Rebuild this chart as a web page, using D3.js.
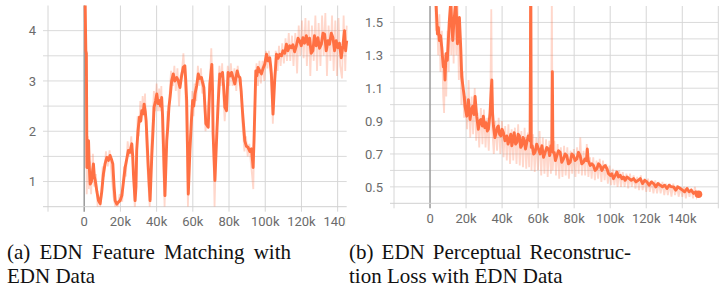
<!DOCTYPE html>
<html>
<head>
<meta charset="utf-8">
<script src="https://cdn.jsdelivr.net/npm/d3@7"></script>
<style>
  body { margin: 0; background: #fff; }
  svg { display: block; }
  .tick-label { font-family: Roboto, "Noto Sans", sans-serif; font-size: 13px; fill: #6b6b6b; }
  .caption { font-family: "Liberation Serif", "DejaVu Serif", serif; font-size: 21px; fill: #111; }
</style>
</head>
<body>
<svg id="chart" width="726" height="292"></svg>
<script>
// steps are in thousands
const xTicks = [0, 20, 40, 60, 80, 100, 120, 140];
const xTickLabels = ["0", "20k", "40k", "60k", "80k", "100k", "120k", "140k"];
const featTicks = [1, 2, 3, 4];
const featGrid = [1, 1.5, 2, 2.5, 3, 3.5, 4];
const percTicks = [0.5, 0.7, 0.9, 1.1, 1.3, 1.5];
const percGrid = [0.5, 0.6, 0.7, 0.8, 0.9, 1.0, 1.1, 1.2, 1.3, 1.4, 1.5];

// (a) feature matching loss, [step, value]
const featSmooth = [[0,6.0],[0.5,4.6],[0.9,3.6],[1.2,3.55],[1.5,1.28],[1.9,1.5],[2.4,1.81],[2.8,1.3],[3.3,0.95],[4.0,1.0],
  [4.6,1.2],[5.1,1.35],[5.6,1.1],[6.1,1.02],[7.0,0.8],[7.9,0.62],[8.8,0.56],[9.7,0.8],[10.6,1.15],[11.5,1.35],
  [12.5,1.48],[13.4,1.42],[14.3,1.52],[15.0,1.45],[15.8,1.35],[16.5,0.9],[17.1,0.62],[18.0,0.55],[18.9,0.59],[19.8,0.62],
  [20.8,0.72],[21.7,1.0],[22.6,1.28],[23.5,1.45],[24.4,1.62],[25.3,1.58],[26.3,1.75],[26.8,1.5],[27.2,1.15],[28.1,0.62],
  [28.6,0.9],[29.0,1.62],[29.7,2.0],[30.5,2.28],[31.2,2.2],[31.8,2.41],[32.5,2.35],[33.1,2.54],[33.7,2.4],[34.2,2.21],
  [35.4,1.28],[36.4,0.62],[37.3,1.48],[38.0,2.0],[38.6,2.48],[39.4,2.6],[40.1,2.74],[40.8,2.55],[41.5,2.61],[42.2,2.5],
  [42.8,2.67],[43.3,2.3],[43.7,1.81],[44.6,0.72],[45.6,1.81],[46.2,2.1],[46.8,2.48],[47.5,2.7],[48.3,3.0],[49.2,3.14],
  [50.0,3.0],[51.1,3.07],[52.0,3.0],[52.9,2.87],[53.8,3.1],[54.7,3.27],[55.6,3.3],[56.1,3.0],[56.6,2.61],[57.5,0.75],
  [58.4,1.62],[59.2,2.2],[59.9,2.61],[60.5,2.5],[61.2,2.74],[62.1,2.9],[63.0,3.14],[63.9,3.05],[64.8,3.07],[65.5,2.95],
  [66.1,2.87],[67.2,2.15],[68.5,2.08],[69.4,2.94],[70.5,3.33],[70.9,2.8],[71.2,1.95],[72.2,1.02],[73.4,2.08],[74.2,2.7],
  [74.9,3.14],[75.7,3.1],[76.4,3.17],[77.0,2.9],[77.7,2.48],[78.6,2.41],[79.5,3.17],[80.5,3.1],[81.4,3.17],[82.3,3.05],
  [83.2,2.94],[84.5,3.2],[85.2,3.1],[86.0,3.07],[86.7,2.8],[87.4,2.41],[88.7,1.81],[89.6,1.7],[90.5,1.68],[91.5,1.6],
  [92.4,1.65],[93.3,1.28],[93.8,1.81],[94.8,3.2],[95.4,3.1],[96.0,3.27],[97.0,3.2],[97.9,3.14],[98.8,3.25],[99.7,3.33],
  [100.7,3.53],[101.5,3.4],[102.5,3.46],[103.0,3.3],[103.4,3.14],[104.3,2.34],[105.2,3.0],[106.2,3.53],[107.1,3.45],[108.0,3.53],
  [109.0,3.5],[109.8,3.6],[110.8,3.55],[111.7,3.73],[112.5,3.6],[113.5,3.7],[114.4,3.66],[115.3,3.72],[116.2,3.58],[117.2,3.7],
  [118.1,3.85],[119.0,3.8],[119.9,3.7],[120.8,3.86],[121.7,3.75],[122.7,3.9],[123.6,3.73],[124.5,3.85],[125.4,3.55],[126.3,3.6],
  [127.2,3.9],[128.2,3.7],[129.1,3.86],[130.0,3.65],[131.0,3.73],[131.9,3.95],[132.8,3.93],[133.7,3.6],[134.6,3.8],[135.5,3.73],
  [136.5,3.95],[137.4,3.86],[138.3,3.6],[139.2,3.8],[140.1,3.66],[141.0,3.75],[142.0,3.46],[142.9,3.7],[143.8,4.0],[144.4,3.6],[145.0,3.8]];

const featRaw = [[0,6.0],[0.6,4.5],[1.0,3.0],[1.4,0.75],[2.0,1.9],[2.6,0.85],[3.2,1.4],[3.8,0.75],[4.8,1.55],[5.5,0.9],
  [6.5,1.15],[7.4,0.5],[8.6,0.45],[9.5,0.7],[10.2,1.3],[11.0,1.1],[12.0,1.6],[13.0,1.3],[14.0,1.62],[15.0,1.2],
  [16.2,0.7],[17.4,0.45],[18.5,0.5],[19.6,0.75],[21.0,0.6],[22.0,1.3],[23.0,1.1],[24.0,1.8],[25.0,1.5],[26.0,1.9],
  [27.0,1.2],[28.0,0.45],[28.8,1.2],[29.5,2.3],[30.2,1.9],[31.0,2.6],[31.6,2.2],[32.3,2.7],[33.0,2.3],[33.6,2.75],
  [34.5,1.6],[35.5,0.9],[36.2,0.5],[37.0,1.7],[37.8,2.2],[38.5,2.8],[39.2,2.4],[40.0,2.95],[40.7,2.4],[41.4,2.85],
  [42.0,2.4],[42.6,2.9],[43.4,1.6],[44.4,0.5],[45.3,1.6],[46.0,2.4],[46.6,2.2],[47.4,2.9],[48.0,3.2],[49.0,2.9],
  [49.8,3.3],[50.6,2.8],[51.5,3.25],[52.4,2.5],[53.2,3.1],[54.0,3.2],[54.8,3.55],[55.5,3.1],[56.4,2.3],[57.3,0.5],
  [58.2,1.9],[59.0,2.0],[59.7,2.8],[60.4,2.3],[61.0,2.95],[61.9,2.6],[62.8,3.3],[63.6,2.9],[64.5,3.25],[65.2,2.75],
  [66.0,3.0],[67.0,2.0],[68.0,2.3],[69.0,2.7],[70.2,3.65],[70.8,3.0],[71.3,1.8],[72.0,0.5],[73.0,1.8],[74.0,2.9],
  [74.7,3.3],[75.5,2.9],[76.2,3.35],[77.0,2.6],[77.6,2.2],[78.4,2.6],[79.3,3.3],[80.2,2.9],[81.0,3.35],[82.0,2.9],
  [83.0,3.25],[84.0,2.8],[84.8,3.3],[85.8,2.95],[86.6,3.0],[87.3,2.2],[88.5,1.6],[89.4,1.9],[90.3,1.5],[91.2,1.75],
  [92.0,1.4],[92.8,1.1],[93.4,0.85],[94.0,2.0],[94.6,3.0],[95.2,3.35],[96.0,2.9],[96.8,3.4],[97.6,2.95],[98.5,3.4],
  [99.5,3.0],[100.4,3.6],[101.2,3.25],[102.0,3.6],[102.8,3.2],[103.5,2.9],[104.2,2.15],[105.0,2.9],[105.8,3.6],[106.8,3.2],
  [107.6,3.7],[108.5,3.3],[109.4,3.75],[110.3,3.35],[111.2,3.85],[112.0,3.4],[113.0,3.95],[113.8,3.4],[114.8,3.9],[115.6,3.3],
  [116.6,3.95],[117.6,3.15],[118.5,4.1],[119.4,3.5],[120.3,4.2],[121.2,3.45],[122.2,4.25],[123.0,3.3],[124.0,4.2],[124.9,3.1],
  [125.8,4.1],[126.8,3.4],[127.7,4.3],[128.6,3.2],[129.5,4.15],[130.5,3.3],[131.4,4.3],[132.3,3.5],[133.2,4.35],[134.1,3.1],
  [135.0,4.1],[136.0,3.4],[136.9,4.3],[137.8,3.2],[138.7,4.2],[139.6,3.1],[140.5,4.25],[141.4,3.3],[142.4,3.05],[143.3,4.3],[144.2,3.2],[145.0,4.1]];

// (b) perceptual reconstruction loss, [step, value]
const percSmooth = [[0,3.0],[2.5,2.0],[3.3,1.62],[4.1,1.43],[4.6,1.47],[5.2,1.39],[5.8,1.42],[6.5,1.35],[7.0,1.28],[7.4,1.23],
  [7.9,1.25],[8.3,1.15],[8.9,1.31],[9.6,1.27],[10.2,1.4],[10.7,1.51],[11.5,1.62],[12.0,1.5],[12.6,1.39],[13.3,1.51],
  [13.9,1.58],[14.4,1.63],[15.2,1.37],[15.8,1.45],[16.3,1.53],[17.1,1.33],[17.6,1.17],[18.5,1.09],[19.0,1.05],[19.4,0.99],
  [20.4,0.93],[21.3,1.03],[22.2,0.91],[23.0,0.97],[23.7,0.99],[24.4,0.94],[25.0,1.05],[25.9,0.93],[26.8,0.85],[27.5,0.9],
  [28.2,0.91],[29.0,0.87],[29.6,0.93],[30.4,0.86],[31.1,0.89],[31.8,0.84],[32.4,0.85],[33.3,0.95],[34.0,1.1],[34.3,1.15],
  [34.7,0.95],[35.2,0.87],[36.0,0.8],[36.7,0.83],[37.3,0.86],[37.9,0.87],[38.6,0.82],[39.3,0.81],[40.0,0.85],[40.7,0.83],
  [41.6,0.78],[42.6,0.81],[43.3,0.76],[44.1,0.79],[44.8,0.82],[45.4,0.75],[46.0,0.78],[46.7,0.83],[47.5,0.76],[48.2,0.77],
  [48.9,0.82],[49.6,0.81],[50.3,0.74],[50.9,0.75],[51.6,0.8],[52.2,0.79],[53.0,0.73],[53.7,0.77],[54.5,0.81],[55.2,0.79],
  [55.6,0.78],[55.9,1.9],[56.2,0.74],[56.7,0.75],[57.5,0.7],[58.3,0.71],[59.2,0.76],[60.2,0.73],[61.1,0.7],[62.1,0.75],
  [63.0,0.68],[63.9,0.71],[64.8,0.74],[65.7,0.73],[66.4,0.69],[67.1,0.75],[67.6,0.72],[67.9,1.2],[68.2,0.71],[68.9,0.71],
  [69.6,0.66],[70.4,0.69],[71.3,0.72],[72.2,0.71],[73.1,0.65],[74.1,0.67],[75.0,0.7],[75.9,0.69],[76.8,0.64],[77.8,0.65],
  [78.7,0.7],[79.6,0.69],[80.5,0.66],[81.5,0.67],[82.4,0.71],[83.3,0.69],[84.2,0.64],[85.2,0.65],[86.0,0.67],[86.8,0.66],
  [87.3,0.73],[87.8,0.66],[88.9,0.63],[89.8,0.64],[90.7,0.63],[91.6,0.6],[92.6,0.61],[93.5,0.64],[94.4,0.63],[95.4,0.6],
  [96.3,0.62],[97.2,0.63],[98.2,0.61],[99.1,0.58],[100.0,0.57],[100.9,0.58],[101.8,0.55],[102.8,0.57],[103.7,0.59],[104.6,0.56],
  [105.6,0.57],[106.5,0.55],[107.4,0.56],[108.3,0.54],[109.3,0.56],[110.5,0.55],[111.7,0.54],[113.0,0.55],[114.3,0.53],[115.5,0.54],
  [116.7,0.55],[118.0,0.52],[119.2,0.54],[120.4,0.53],[121.6,0.51],[122.9,0.53],[124.1,0.52],[125.3,0.5],[126.5,0.52],[127.8,0.51],
  [129.0,0.5],[130.2,0.51],[131.5,0.49],[132.7,0.51],[134.0,0.5],[135.2,0.5],[136.4,0.48],[137.6,0.5],[138.9,0.49],[140.1,0.48],
  [141.3,0.47],[142.6,0.49],[143.8,0.47],[145.0,0.48],[146.3,0.46],[147.5,0.47],[148.7,0.46],[149.0,0.455]];

const percRaw = [[0,3.0],[2.6,2.0],[3.2,1.45],[3.8,1.6],[4.5,1.3],[5.2,1.55],[5.8,1.2],[6.6,1.45],[7.3,1.05],[7.8,0.95],
  [8.4,1.3],[9.0,1.05],[9.7,1.45],[10.4,1.2],[11.0,1.7],[11.8,1.3],[12.4,1.65],[13.1,1.25],[13.8,1.7],[14.6,1.3],
  [15.3,1.6],[16.0,1.15],[16.7,1.45],[17.4,1.0],[18.2,1.2],[18.9,0.92],[19.8,1.05],[20.6,0.85],[21.4,1.15],[22.3,0.8],
  [23.1,1.05],[23.9,0.82],[24.8,1.1],[25.6,0.78],[26.4,0.95],[27.3,0.74],[28.2,0.98],[29.1,0.76],[29.9,0.97],[30.8,0.74],
  [31.7,0.92],[32.6,0.72],[33.4,0.96],[34.0,1.58],[34.5,0.85],[35.4,0.7],[36.3,0.9],[37.2,0.72],[38.1,0.92],[39.0,0.7],
  [39.9,0.9],[40.8,0.68],[41.7,0.87],[42.6,0.66],[43.5,0.88],[44.4,0.64],[45.3,0.85],[46.2,0.66],[47.1,0.86],[48.0,0.64],
  [48.9,0.88],[49.8,0.63],[50.7,0.84],[51.6,0.62],[52.5,0.86],[53.4,0.61],[54.3,0.83],[55.0,0.62],[55.8,1.7],[56.3,0.6],
  [57.2,0.82],[58.1,0.59],[59.0,0.8],[59.9,0.6],[60.8,0.84],[61.7,0.57],[62.6,0.8],[63.5,0.58],[64.4,0.79],[65.3,0.56],
  [66.2,0.78],[67.1,0.58],[67.6,1.7],[68.1,0.6],[69.0,0.78],[69.9,0.57],[70.8,0.76],[71.7,0.55],[72.6,0.74],[73.5,0.56],
  [74.4,0.75],[75.3,0.57],[76.2,0.74],[77.1,0.55],[78.0,0.72],[78.9,0.58],[79.8,0.73],[80.7,0.56],[81.6,0.74],[82.5,0.58],
  [83.4,0.8],[84.3,0.57],[85.2,0.72],[86.1,0.57],[87.0,0.76],[87.9,0.56],[88.8,0.68],[89.7,0.55],[90.6,0.68],[91.5,0.54],
  [92.4,0.66],[93.3,0.55],[94.2,0.67],[95.1,0.53],[96.0,0.66],[96.9,0.54],[97.8,0.64],[98.7,0.52],[99.6,0.63],[100.5,0.51],
  [101.4,0.61],[102.3,0.51],[103.2,0.6],[104.1,0.5],[105.0,0.6],[106.0,0.5],[107.0,0.59],[108.0,0.5],[109.0,0.58],[110.0,0.49],
  [111.0,0.58],[112.0,0.5],[113.0,0.57],[114.0,0.49],[115.0,0.56],[116.0,0.48],[117.0,0.57],[118.0,0.48],[119.0,0.55],[120.0,0.47],
  [121.0,0.55],[122.0,0.47],[123.0,0.54],[124.0,0.46],[125.0,0.54],[126.0,0.46],[127.0,0.53],[128.0,0.46],[129.0,0.53],[130.0,0.45],
  [131.0,0.52],[132.0,0.45],[133.0,0.52],[134.0,0.44],[135.0,0.52],[136.0,0.45],[137.0,0.51],[138.0,0.44],[139.0,0.5],[140.0,0.44],
  [141.0,0.5],[142.0,0.43],[143.0,0.5],[144.0,0.44],[145.0,0.49],[146.0,0.43],[147.0,0.5],[148.0,0.44],[149.0,0.47]];

const captionA = ["(a) EDN Feature Matching with", "EDN Data"];
const captionB = ["(b) EDN Perceptual Reconstruc-", "tion Loss with EDN Data"];

const lineColor = "#ff7043";
var svg = d3.select("#chart");

const drawPanel = (opt) => {
    var x = d3.scaleLinear().domain(opt.xDomain).range([opt.left, opt.right]);
    var y = d3.scaleLinear().domain(opt.yDomain).range([opt.bottom, opt.top]);
    var g = svg.append("g");

    // horizontal grid
    g.selectAll(".hgrid")
        .data(opt.yGrid)
        .enter()
        .append("line")
        .attr("x1", opt.gridLeft)
        .attr("x2", opt.right)
        .attr("y1", d => y(d))
        .attr("y2", d => y(d))
        .attr("stroke", "#dadada")
        .attr("stroke-width", 1);

    // vertical grid, one step below 0 too
    var vgrid = [-20].concat(xTicks).concat(opt.extraX);
    g.selectAll(".vgrid")
        .data(vgrid)
        .enter()
        .append("line")
        .attr("x1", d => x(d))
        .attr("x2", d => x(d))
        .attr("y1", opt.top)
        .attr("y2", opt.bottom + 5)
        .attr("stroke", d => d === 0 ? "#9a9a9a" : "#d6d6d6")
        .attr("stroke-width", d => d === 0 ? 1.5 : 1);

    // bottom axis line
    g.append("line")
        .attr("x1", opt.gridLeft)
        .attr("x2", opt.right)
        .attr("y1", opt.bottom)
        .attr("y2", opt.bottom)
        .attr("stroke", "#d0d0d0");

    var clipId = "clip" + opt.name;
    svg.append("clipPath").attr("id", clipId)
        .append("rect")
        .attr("x", opt.left)
        .attr("y", opt.top)
        .attr("width", opt.right - opt.left + 4)
        .attr("height", opt.bottom - opt.top);

    var line = d3.line()
        .x(d => x(d[0]))
        .y(d => y(d[1]));

    var plot = g.append("g").attr("clip-path", "url(#" + clipId + ")");
    plot.append("path")
        .datum(opt.raw)
        .attr("d", line)
        .attr("fill", "none")
        .attr("stroke", lineColor)
        .attr("stroke-opacity", 0.28)
        .attr("stroke-width", 1.8);
    plot.append("path")
        .datum(opt.smooth)
        .attr("d", line)
        .attr("fill", "none")
        .attr("stroke", lineColor)
        .attr("stroke-width", 2.9)
        .attr("stroke-linejoin", "round");

    if (opt.endDot) {
        var last = opt.smooth[opt.smooth.length - 1];
        plot.append("circle")
            .attr("cx", x(last[0]))
            .attr("cy", y(last[1]))
            .attr("r", 3.8)
            .attr("fill", lineColor);
    }

    // y labels
    g.selectAll(".ylab")
        .data(opt.yTicks)
        .enter()
        .append("text")
        .attr("class", "tick-label")
        .attr("x", opt.labelRight)
        .attr("y", d => y(d))
        .attr("dy", "0.36em")
        .attr("text-anchor", "end")
        .text(d => opt.yFormat(d));

    // x labels, clipped at the panel edge
    var labClip = "labclip" + opt.name;
    svg.append("clipPath").attr("id", labClip)
        .append("rect")
        .attr("x", opt.gridLeft)
        .attr("y", opt.bottom)
        .attr("width", opt.right - opt.gridLeft - 1)
        .attr("height", 40);
    g.append("g").attr("clip-path", "url(#" + labClip + ")")
        .selectAll("text")
        .data(xTicks)
        .enter()
        .append("text")
        .attr("class", "tick-label")
        .attr("x", d => x(d))
        .attr("y", opt.bottom + 19.5)
        .attr("text-anchor", "middle")
        .text((d, i) => xTickLabels[i]);
};

drawPanel({
    name: "a", xDomain: [-20, 145], yDomain: [0.5, 4.5],
    left: 48, right: 346.7, top: 5.5, bottom: 206.7, gridLeft: 43, labelRight: 36,
    yGrid: featGrid, yTicks: featTicks, yFormat: d3.format("d"), extraX: [],
    raw: featRaw, smooth: featSmooth, endDot: false
});

drawPanel({
    name: "b", xDomain: [-20, 160], yDomain: [0.4, 1.6],
    left: 394, right: 718.3, top: 6, bottom: 203.3, gridLeft: 390, labelRight: 383,
    yGrid: percGrid, yTicks: percTicks, yFormat: d3.format(".1f"), extraX: [160],
    raw: percRaw, smooth: percSmooth, endDot: true
});

// captions: first lines are justified, so stretch word spacing
const drawCaption = (lines, x0, width) => {
    lines.forEach((txt, i) => {
        var t = svg.append("text")
            .attr("class", "caption")
            .attr("x", x0)
            .attr("y", 259 + i * 24)
            .text(txt);
        if (i === 0) {
            var natural = t.node().getComputedTextLength();
            var gaps = txt.split(" ").length - 1;
            t.style("word-spacing", Math.max(0, (width - natural) / gaps) + "px");
        }
    });
};
drawCaption(captionA, 7, 284);
drawCaption(captionB, 349, 282);
</script>
</body>
</html>
